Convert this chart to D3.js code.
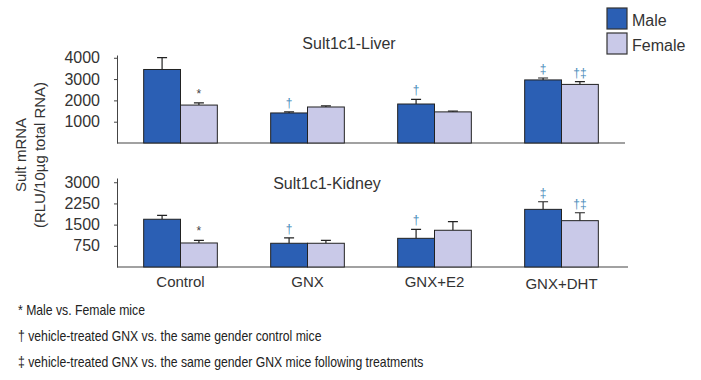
<!DOCTYPE html>
<html>
<head>
<meta charset="utf-8">
<script src="https://cdn.jsdelivr.net/npm/d3@7"></script>
<style>
  body { margin: 0; background: #fff; }
  svg { display: block; font-family: "Liberation Sans", Arial, sans-serif; }
</style>
</head>
<body>
<div id="chart"></div>
<script>
// groups along the x axis
const groups = ["Control", "GNX", "GNX+E2", "GNX+DHT"];
const sexes = ["Male", "Female"];

// Sult1c1 liver (RLU/10ug total RNA)
const liverMale = [3450, 1410, 1830, 2960];
const liverMaleErr = [560, 50, 220, 90];
const liverFemale = [1780, 1690, 1460, 2750];
const liverFemaleErr = [100, 50, 40, 130];

// Sult1c1 kidney
const kidneyMale = [1690, 840, 1015, 2040];
const kidneyMaleErr = [140, 190, 320, 270];
const kidneyFemale = [850, 840, 1300, 1640];
const kidneyFemaleErr = [95, 105, 305, 280];

// significance marks over each bar
const maleMarks = ["", "\u2020", "\u2020", "\u2021"];
const femaleMarks = ["*", "", "", "\u2020\u2021"];

const liverTicks = [1000, 2000, 3000, 4000];
const kidneyTicks = [750, 1500, 2250, 3000];

const footnotes = [
  "* Male vs. Female mice",
  "\u2020 vehicle-treated GNX vs. the same gender control mice",
  "\u2021 vehicle-treated GNX vs. the same gender GNX mice following treatments"
];

const colors = { Male: "#2b5fb4", Female: "#c9c9e8" };
const markColor = { "*": "#444", "\u2020": "#4b8dbb", "\u2021": "#4b8dbb", "\u2020\u2021": "#4b8dbb" };

const W = 701, H = 380;
const svg = d3.select("#chart").append("svg").attr("width", W).attr("height", H);

const x = d3.scaleBand().domain(groups).range([117, 625]).paddingInner(0.42).paddingOuter(0.21);
const xs = d3.scaleBand().domain(sexes).range([0, x.bandwidth()]);

function panel(cfg) {
  const y = d3.scaleLinear().domain([0, cfg.max]).range([cfg.base, cfg.top]);
  const g = svg.append("g");

  // y axis
  const ax = g.append("g")
    .attr("transform", "translate(117,0)")
    .call(d3.axisLeft(y).tickValues(cfg.ticks).tickSize(3).tickPadding(14).tickFormat(d3.format("d")).tickSizeOuter(0));
  ax.select(".domain").attr("stroke", "#444");
  ax.selectAll(".tick line").attr("stroke", "#444");
  ax.selectAll(".tick text").attr("fill", "#333").style("font-size", "16px");

  // baseline
  g.append("line")
    .attr("x1", 117).attr("x2", cfg.right)
    .attr("y1", y(0)).attr("y2", y(0))
    .attr("stroke", "#444").attr("stroke-width", 1.2);

  const rows = [];
  groups.forEach((grp, i) => {
    rows.push({ grp, sex: "Male", v: cfg.male[i], e: cfg.maleErr[i], m: maleMarks[i] });
    rows.push({ grp, sex: "Female", v: cfg.female[i], e: cfg.femaleErr[i], m: femaleMarks[i] });
  });

  const bx = d => x(d.grp) + xs(d.sex);
  const cx = d => bx(d) + xs.bandwidth() / 2;

  // error bars (upper only)
  g.selectAll(".err").data(rows).enter().append("path")
    .attr("d", d => `M${cx(d)},${y(d.v)}V${y(d.v + d.e)}M${cx(d) - 5},${y(d.v + d.e)}H${cx(d) + 5}`)
    .attr("stroke", "#222").attr("stroke-width", 1.2).attr("fill", "none");

  g.selectAll(".bar").data(rows).enter().append("rect")
    .attr("x", bx)
    .attr("y", d => y(d.v))
    .attr("width", xs.bandwidth())
    .attr("height", d => y(0) - y(d.v))
    .attr("fill", d => colors[d.sex])
    .attr("stroke", "#222").attr("stroke-width", 1);

  g.selectAll(".mark").data(rows.filter(d => d.m)).enter().append("text")
    .attr("x", cx)
    .attr("y", d => y(d.v + d.e) - 5)
    .attr("text-anchor", "middle")
    .attr("fill", d => markColor[d.m])
    .style("font-size", "12px")
    .text(d => d.m);

  g.append("text")
    .attr("x", cfg.titleX).attr("y", cfg.titleY)
    .attr("text-anchor", "middle")
    .attr("fill", "#333")
    .style("font-size", "16px")
    .text(cfg.title);
}

panel({ title: "Sult1c1-Liver", titleX: 349, titleY: 49, max: 4130, base: 143, top: 55, right: 625,
  ticks: liverTicks, male: liverMale, maleErr: liverMaleErr, female: liverFemale, femaleErr: liverFemaleErr });
panel({ title: "Sult1c1-Kidney", titleX: 327, titleY: 189, max: 3150, base: 267, top: 178, right: 628,
  ticks: kidneyTicks, male: kidneyMale, maleErr: kidneyMaleErr, female: kidneyFemale, femaleErr: kidneyFemaleErr });

// x labels
svg.selectAll(".xl").data(groups).enter().append("text")
  .attr("x", d => x(d) + x.bandwidth() / 2)
  .attr("y", (d, i) => i === 3 ? 289 : 287)
  .attr("text-anchor", "middle")
  .attr("fill", "#333")
  .style("font-size", "15px")
  .text(d => d);

// y axis title
const yl = svg.append("text")
  .attr("transform", "translate(0,155) rotate(-90)")
  .attr("text-anchor", "middle")
  .attr("fill", "#333")
  .style("font-size", "15px");
yl.append("tspan").attr("x", 0).attr("y", 26).text("Sult mRNA");
yl.append("tspan").attr("x", 0).attr("y", 45).text("(RLU/10\u00b5g total RNA)");

// legend
const leg = svg.append("g");
sexes.forEach((s, i) => {
  leg.append("rect")
    .attr("x", 607).attr("y", 8 + i * 25)
    .attr("width", 20).attr("height", 21)
    .attr("fill", colors[s]).attr("stroke", "#333").attr("stroke-width", 1.2);
  leg.append("text")
    .attr("x", 632).attr("y", 26 + i * 25)
    .attr("fill", "#333")
    .style("font-size", "16px")
    .text(s);
});

// footnotes, squeezed to look like a narrow face
svg.append("g")
  .attr("transform", "translate(18,0) scale(0.815,1)")
  .selectAll("text").data(footnotes).enter().append("text")
  .attr("x", 0)
  .attr("y", (d, i) => 315 + i * 26)
  .attr("fill", "#222")
  .style("font-size", "15px")
  .text(d => d);
</script>
</body>
</html>
